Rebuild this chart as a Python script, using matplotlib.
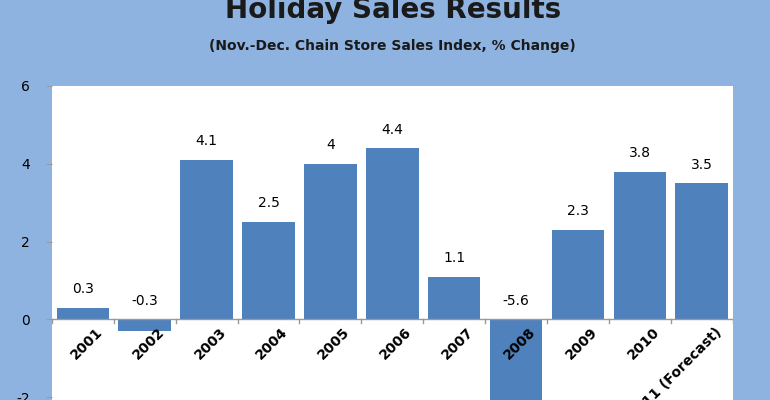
import matplotlib.pyplot as plt

years = ["2001", "2002", "2003", "2004", "2005", "2006", "2007", "2008", "2009", "2010", "2011 (Forecast)"]
values = [0.3, -0.3, 4.1, 2.5, 4.0, 4.4, 1.1, -5.6, 2.3, 3.8, 3.5]
value_labels = ["0.3", "-0.3", "4.1", "2.5", "4", "4.4", "1.1", "-5.6", "2.3", "3.8", "3.5"]

plt.rcParams["axes.unicode_minus"] = False
bg = "#8fb3e0"
fig = plt.figure(figsize=(7.7, 4.0), dpi=100, facecolor=bg)
ax = fig.add_axes([0.0675, -0.0125, 0.884, 0.7975])
ax.set_facecolor("white")

x = range(len(years))
ax.bar(x, values, width=0.85, color="#4f81bd", zorder=2)
ax.set_xlim(-0.5, len(years) - 0.5)
ax.set_ylim(-2.2, 6)
ax.set_yticks([-2, 0, 2, 4, 6])
ax.tick_params(axis="y", length=4, color="#999999", labelsize=10, pad=12)
ax.set_xticks([])
for s in ax.spines.values():
    s.set_visible(False)
ax.axhline(0, color="#999999", lw=1, zorder=3)
for i in range(len(years) + 1):
    ax.plot([i - 0.5, i - 0.5], [0, -0.08], color="#999999", lw=1, zorder=3)

for i, (v, lab) in enumerate(zip(values, value_labels)):
    ax.text(i, max(v, 0) + 0.3, lab, ha="center", va="bottom", fontsize=10, zorder=4)
    ax.text(i + 0.2, -0.14, years[i], rotation=45, ha="right", va="top",
            rotation_mode="anchor", fontsize=10, fontweight="bold", zorder=4)

fig.text(0.51, 0.975, "Holiday Sales Results", ha="center", va="center",
         fontsize=20, fontweight="bold", color="#1a1a1a")
fig.text(0.51, 0.885, "(Nov.-Dec. Chain Store Sales Index, % Change)", ha="center",
         va="center", fontsize=10, fontweight="bold", color="#1a1a1a")

fig.savefig("out.png", dpi=100, facecolor=bg)
